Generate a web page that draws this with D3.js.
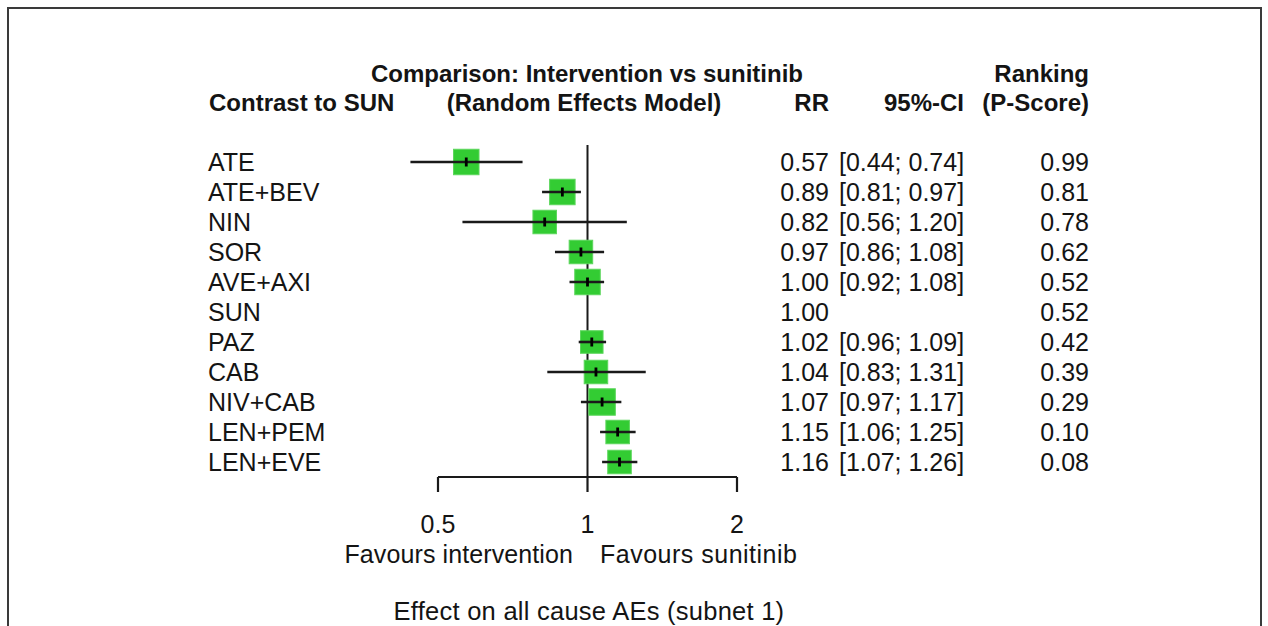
<!DOCTYPE html>
<html>
<head>
<meta charset="utf-8">
<script src="https://cdn.jsdelivr.net/npm/d3@7"></script>
<style>
  html, body { margin: 0; padding: 0; background: #fff; }
  svg { display: block; font-family: "Liberation Sans", Arial, sans-serif; }
</style>
</head>
<body>
<div id="chart"></div>
<script>
// forest plot data, network meta-analysis vs sunitinib
const treatments = ["ATE", "ATE+BEV", "NIN", "SOR", "AVE+AXI", "SUN", "PAZ", "CAB", "NIV+CAB", "LEN+PEM", "LEN+EVE"];
const rr =      [0.57, 0.89, 0.82, 0.97, 1.00, 1.00, 1.02, 1.04, 1.07, 1.15, 1.16];
const ciLower = [0.44, 0.81, 0.56, 0.86, 0.92, null, 0.96, 0.83, 0.97, 1.06, 1.07];
const ciUpper = [0.74, 0.97, 1.20, 1.08, 1.08, null, 1.09, 1.31, 1.17, 1.25, 1.26];
const pScore =  [0.99, 0.81, 0.78, 0.62, 0.52, 0.52, 0.42, 0.39, 0.29, 0.10, 0.08];
const weights = [1.04, 1.04, 0.96, 0.96, 1.04, 0, 0.92, 0.96, 1.08, 0.96, 0.96];
const tickValues = [0.5, 1, 2];

const width = 1268, height = 626;
const fontSize = 25;
const boldSize = 24;
const ink = "#141414";

const svg = d3.select("#chart")
    .append("svg")
    .attr("width", width)
    .attr("height", height);

// frame
svg.append("path")
    .attr("d", `M8,${height + 2} L8,8 L1261,8 L1261,${height + 2}`)
    .attr("fill", "none")
    .attr("stroke", "#3a3a3a")
    .attr("stroke-width", 2);

const x = d3.scaleLog().domain([0.5, 2]).range([438, 737]);
const y = d3.scaleLinear().domain([0, treatments.length - 1]).range([162, 462]);
const size = d3.scaleLinear().domain([0, 1]).range([0, 24.5]);

const rows = treatments.map((t, i) => ({
    name: t, rr: rr[i], lo: ciLower[i], hi: ciUpper[i], p: pScore[i], w: weights[i], i
}));

// headers
const header = svg.append("g")
    .attr("font-weight", "bold")
    .attr("font-size", boldSize)
    .attr("fill", ink);
header.append("text").attr("x", 587).attr("y", 82).attr("text-anchor", "middle")
    .text("Comparison: Intervention vs sunitinib");
header.append("text").attr("x", 1089).attr("y", 82).attr("text-anchor", "end")
    .text("Ranking");
header.append("text").attr("x", 209).attr("y", 111)
    .text("Contrast to SUN");
header.append("text").attr("x", 584).attr("y", 111).attr("text-anchor", "middle")
    .text("(Random Effects Model)");
header.append("text").attr("x", 829).attr("y", 111).attr("text-anchor", "end")
    .text("RR");
header.append("text").attr("x", 964).attr("y", 111).attr("text-anchor", "end")
    .text("95%-CI");
header.append("text").attr("x", 1089).attr("y", 111).attr("text-anchor", "end")
    .text("(P-Score)");

// reference line at 1
svg.append("line")
    .attr("x1", x(1)).attr("x2", x(1))
    .attr("y1", 145).attr("y2", 477)
    .attr("stroke", "#1a1a1a")
    .attr("stroke-width", 2);

// axis
const axisY = 477;
const axis = svg.append("g").attr("stroke", "#1a1a1a").attr("stroke-width", 2.2).attr("fill", "none");
axis.append("line").attr("x1", x(0.5)).attr("x2", x(2)).attr("y1", axisY).attr("y2", axisY);
axis.selectAll(".tick")
    .data(tickValues)
    .enter()
    .append("line")
    .attr("x1", d => x(d)).attr("x2", d => x(d))
    .attr("y1", axisY).attr("y2", axisY + 15);

svg.append("g")
    .attr("font-size", fontSize)
    .attr("fill", ink)
    .attr("text-anchor", "middle")
    .selectAll("text")
    .data(tickValues)
    .enter()
    .append("text")
    .attr("x", d => x(d))
    .attr("y", 533)
    .text(d => d);

svg.append("text").attr("x", 573).attr("y", 563).attr("text-anchor", "end")
    .attr("font-size", fontSize).attr("letter-spacing", 0.1).attr("fill", ink)
    .text("Favours intervention");
svg.append("text").attr("x", 600).attr("y", 563)
    .attr("font-size", fontSize).attr("letter-spacing", 0.5).attr("fill", ink)
    .text("Favours sunitinib");
svg.append("text").attr("x", 589).attr("y", 620).attr("text-anchor", "middle")
    .attr("font-size", 25.5).attr("letter-spacing", 0.25).attr("fill", ink)
    .text("Effect on all cause AEs (subnet 1)");

// rows
const row = svg.selectAll(".row")
    .data(rows)
    .enter()
    .append("g")
    .attr("class", "row")
    .attr("transform", d => `translate(0, ${y(d.i)})`);

row.filter(d => d.w > 0)
    .append("rect")
    .attr("x", d => x(d.rr) - size(d.w) / 2)
    .attr("y", d => -size(d.w) / 2)
    .attr("width", d => size(d.w))
    .attr("height", d => size(d.w))
    .attr("fill", "#33cc33")
    .attr("stroke", "#5cd65c")
    .attr("stroke-width", 1);

row.filter(d => d.lo !== null)
    .append("line")
    .attr("x1", d => x(d.lo)).attr("x2", d => x(d.hi))
    .attr("y1", 0).attr("y2", 0)
    .attr("stroke", "#1a1a1a")
    .attr("stroke-width", 2.6);

row.filter(d => d.lo !== null)
    .append("line")
    .attr("x1", d => x(d.rr)).attr("x2", d => x(d.rr))
    .attr("y1", -4.5).attr("y2", 4.5)
    .attr("stroke", "#000")
    .attr("stroke-width", 2.8);

const txt = row.append("g").attr("font-size", fontSize).attr("fill", ink);
txt.append("text").attr("x", 208).attr("y", 8.5).text(d => d.name);
txt.append("text").attr("x", 829).attr("y", 8.5).attr("text-anchor", "end")
    .text(d => d.rr.toFixed(2));
txt.filter(d => d.lo !== null)
    .append("text").attr("x", 839).attr("y", 8.5)
    .text(d => `[${d.lo.toFixed(2)}; ${d.hi.toFixed(2)}]`);
txt.append("text").attr("x", 1089).attr("y", 8.5).attr("text-anchor", "end")
    .text(d => d.p.toFixed(2));
</script>
</body>
</html>
